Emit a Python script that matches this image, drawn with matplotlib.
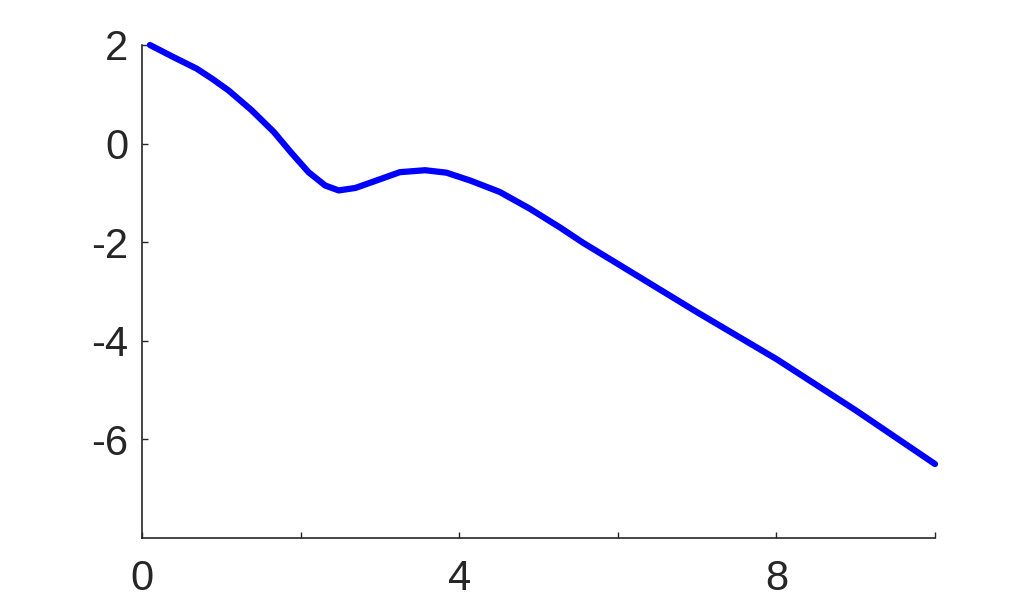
import matplotlib
matplotlib.use("Agg")
import matplotlib.pyplot as plt

x_vals = [0.1, 0.39, 0.69, 0.88, 1.09, 1.38, 1.66, 1.89, 2.10, 2.31, 2.48, 2.69, 2.92,
          3.25, 3.57, 3.84, 4.14, 4.51, 4.89, 5.27, 5.56, 6.0, 7.0, 8.0, 9.0, 10.0]
y_vals = [2.0, 1.76, 1.52, 1.32, 1.08, 0.68, 0.24, -0.20, -0.58, -0.85, -0.95, -0.90, -0.77,
          -0.58, -0.54, -0.59, -0.75, -0.98, -1.32, -1.70, -2.01, -2.44, -3.42, -4.37, -5.41, -6.50]

x_ticks = [0, 2, 4, 6, 8, 10]
x_tick_labels = ['0', '', '4', '', '8', '']
y_ticks = [-6, -4, -2, 0, 2]
y_tick_labels = ['-6', '-4', '-2', '0', '2']

plt.rcParams['font.family'] = ['Liberation Sans', 'DejaVu Sans']

fig = plt.figure(figsize=(10.25, 6.06), dpi=100)
ax = fig.add_axes([142/1025, 1 - 538/606, (935 - 142)/1025, (538 - 45)/606])
ax.plot(x_vals, y_vals, color='#0000ff', linewidth=4.5, solid_capstyle='round',
        solid_joinstyle='round', clip_on=False)

ax.set_xlim(0, 10)
ax.set_ylim(-8, 2)
ax.set_xticks(x_ticks)
ax.set_xticklabels(x_tick_labels)
ax.set_yticks(y_ticks)
ax.set_yticklabels(y_tick_labels)

for side in ['top', 'right']:
    ax.spines[side].set_visible(False)
for side in ['left', 'bottom']:
    ax.spines[side].set_color('#262626')
    ax.spines[side].set_linewidth(1.2)

ax.tick_params(axis='both', direction='in', length=4.3, width=1.0, colors='#262626',
               labelsize=30, labelcolor='#262626')
ax.tick_params(axis='y', pad=10)
ax.tick_params(axis='x', pad=15)

fig.savefig('out.png', dpi=100, facecolor='white')
